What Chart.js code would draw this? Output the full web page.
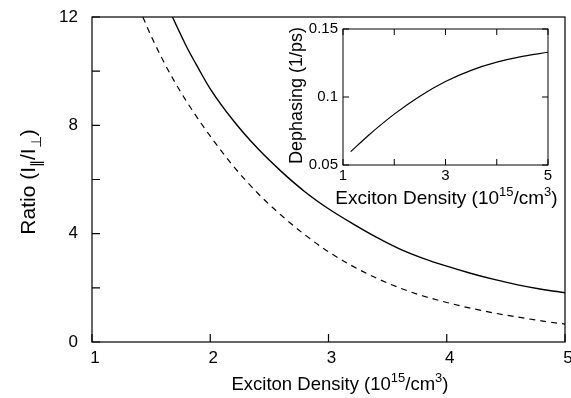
<!DOCTYPE html>
<html>
<head>
<meta charset="utf-8">
<script src="https://cdn.jsdelivr.net/npm/chart.js@4.4.0/dist/chart.umd.min.js"></script>
<style>
html, body { margin: 0; padding: 0; background: #fff; }
#wrap { position: relative; width: 571px; height: 398px; }
#mainChart { position: absolute; left: 0; top: 0; }
#insetChart { position: absolute; left: 280px; top: 20px; }
</style>
</head>
<body>
<div id="wrap">
<canvas id="mainChart" width="571" height="398"></canvas>
<canvas id="insetChart" width="285" height="190"></canvas>
</div>
<script>
// 本体のデータ (Ratio vs Exciton Density)
var densitySolid = [1.68, 1.8, 1.9, 2.0, 2.2, 2.4, 2.6, 2.8, 3.0, 3.2, 3.4, 3.6, 3.8, 4.0, 4.2, 4.4, 4.6, 4.8, 5.0];
var ratioSolid = [12.0, 10.9, 10.1, 9.35, 8.15, 7.15, 6.3, 5.55, 4.92, 4.38, 3.88, 3.44, 3.09, 2.8, 2.54, 2.31, 2.11, 1.95, 1.82];
var densityDashed = [1.43, 1.5, 1.6, 1.7, 1.8, 1.9, 2.0, 2.2, 2.4, 2.6, 2.8, 3.0, 3.2, 3.4, 3.6, 3.8, 4.0, 4.2, 4.4, 4.6, 4.8, 5.0];
var ratioDashed = [12.0, 11.3, 10.4, 9.6, 8.88, 8.22, 7.6, 6.47, 5.5, 4.68, 3.96, 3.33, 2.81, 2.37, 2.0, 1.7, 1.46, 1.25, 1.07, 0.92, 0.78, 0.66];

// インセットのデータ (Dephasing vs Exciton Density)
var insetDensity = [1.15, 1.5, 2.0, 2.5, 3.0, 3.5, 4.0, 4.5, 5.0];
var insetDephasing = [0.0598, 0.0719, 0.0874, 0.1006, 0.1114, 0.1196, 0.1256, 0.1299, 0.1329];

// 目盛り
var mainXTicks = [1, 2, 3, 4, 5];
var mainYTicks = [0, 4, 8, 12];
var mainYMinor = [2, 6, 10];
var insetXTicks = [1, 2, 3, 4, 5];
var insetXLabels = [1, 3, 5];
var insetYTicks = [0.05, 0.1, 0.15];

var FONT = '"Liberation Sans", Arial, Helvetica, sans-serif';

function toPoints(xs, ys) {
    return xs.map(function (x, i) { return { x: x, y: ys[i] }; });
}

// 軸の余白を固定する
function fixX(h) {
    return function (s) { s.height = h; s.paddingLeft = 0; s.paddingRight = 0; };
}
function fixY(w) {
    return function (s) { s.width = w; s.paddingTop = 0; s.paddingBottom = 0; };
}

// 上付き・下付きを含むテキストを描く
function drawRich(ctx, t) {
    ctx.save();
    ctx.translate(t.x, t.y);
    if (t.rot) ctx.rotate(-Math.PI / 2);
    var small = Math.round(t.size * 0.68);
    var w = 0;
    t.parts.forEach(function (p) {
        ctx.font = ((p.sup || p.sub) ? small : t.size) + 'px ' + FONT;
        p.w = ctx.measureText(p.t).width;
        w += p.w;
    });
    var x = -w / 2;
    ctx.fillStyle = '#000';
    ctx.textBaseline = 'alphabetic';
    t.parts.forEach(function (p) {
        ctx.font = ((p.sup || p.sub) ? small : t.size) + 'px ' + FONT;
        var dy = p.sup ? -t.size * 0.42 : (p.sub ? t.size * 0.32 : 0);
        ctx.fillText(p.t, x, t.size * 0.36 + dy);
        x += p.w;
    });
    ctx.restore();
}

// 枠・内向き目盛り・軸タイトル
var framePlugin = {
    id: 'frame',
    afterDatasetsDraw: function (chart, args, opts) {
        var ctx = chart.ctx;
        var a = chart.chartArea;
        var xs = chart.scales.x;
        var ys = chart.scales.y;
        ctx.save();
        ctx.strokeStyle = '#000';
        ctx.lineWidth = opts.lw;
        ctx.strokeRect(a.left, a.top, a.right - a.left, a.bottom - a.top);
        ctx.beginPath();
        opts.xTicks.forEach(function (v) {
            var p = xs.getPixelForValue(v);
            ctx.moveTo(p, a.bottom);
            ctx.lineTo(p, a.bottom - opts.len);
            if (opts.both) {
                ctx.moveTo(p, a.top);
                ctx.lineTo(p, a.top + opts.len);
            }
        });
        opts.yTicks.forEach(function (v) {
            var p = ys.getPixelForValue(v);
            ctx.moveTo(a.left, p);
            ctx.lineTo(a.left + opts.len, p);
            if (opts.both) {
                ctx.moveTo(a.right, p);
                ctx.lineTo(a.right - opts.len, p);
            }
        });
        ctx.stroke();
        ctx.restore();
        opts.titles.forEach(function (t) { drawRich(ctx, t); });
    }
};

var noGrid = { display: false, drawTicks: false };

var mainChart = new Chart(document.getElementById('mainChart'), {
    type: 'line',
    data: {
        datasets: [{
            data: toPoints(densitySolid, ratioSolid),
            borderColor: '#000',
            borderWidth: 1.4,
            pointRadius: 0,
            cubicInterpolationMode: 'monotone',
            fill: false
        }, {
            data: toPoints(densityDashed, ratioDashed),
            borderColor: '#000',
            borderWidth: 1.2,
            borderDash: [6, 5],
            pointRadius: 0,
            cubicInterpolationMode: 'monotone',
            fill: false
        }]
    },
    options: {
        responsive: false,
        animation: false,
        devicePixelRatio: 1,
        layout: { padding: { top: 17, right: 6, left: 0, bottom: 0 } },
        plugins: {
            legend: { display: false },
            tooltip: { enabled: false },
            frame: {
                lw: 1.2,
                len: 8,
                both: false,
                xTicks: mainXTicks,
                yTicks: mainYTicks.concat(mainYMinor),
                titles: [{
                    x: 340, y: 383, size: 18.5,
                    parts: [{ t: 'Exciton Density (10' }, { t: '15', sup: true }, { t: '/cm' }, { t: '3', sup: true }, { t: ')' }]
                }, {
                    x: 27, y: 182, size: 21, rot: true,
                    parts: [{ t: 'Ratio (I' }, { t: '\u2225', sub: true }, { t: '/I' }, { t: '\u22A5', sub: true }, { t: ')' }]
                }]
            }
        },
        scales: {
            x: {
                type: 'linear', min: 1, max: 5,
                grid: noGrid, border: { display: false },
                ticks: {
                    stepSize: 1, padding: 6, labelOffset: 3, color: '#000', maxRotation: 0, autoSkip: false,
                    font: { family: FONT, size: 17 }
                },
                afterFit: fixX(56)
            },
            y: {
                type: 'linear', min: 0, max: 12,
                grid: noGrid, border: { display: false },
                ticks: {
                    stepSize: 4, padding: 14, color: '#000',
                    font: { family: FONT, size: 17 }
                },
                afterFit: fixY(92)
            }
        }
    },
    plugins: [framePlugin]
});

var insetChart = new Chart(document.getElementById('insetChart'), {
    type: 'line',
    data: {
        datasets: [{
            data: toPoints(insetDensity, insetDephasing),
            borderColor: '#000',
            borderWidth: 1.2,
            pointRadius: 0,
            cubicInterpolationMode: 'monotone',
            fill: false
        }]
    },
    options: {
        responsive: false,
        animation: false,
        devicePixelRatio: 1,
        layout: { padding: { top: 9, right: 17, left: 0, bottom: 0 } },
        plugins: {
            legend: { display: false },
            tooltip: { enabled: false },
            frame: {
                lw: 1,
                len: 6,
                both: true,
                xTicks: insetXTicks,
                yTicks: insetYTicks,
                titles: [{
                    x: 166.5, y: 177, size: 19,
                    parts: [{ t: 'Exciton Density (10' }, { t: '15', sup: true }, { t: '/cm' }, { t: '3', sup: true }, { t: ')' }]
                }, {
                    x: 16, y: 75.5, size: 18, rot: true,
                    parts: [{ t: 'Dephasing (1/ps)' }]
                }]
            }
        },
        scales: {
            x: {
                type: 'linear', min: 1, max: 5,
                grid: noGrid, border: { display: false },
                ticks: {
                    stepSize: 1, padding: 2, color: '#000', maxRotation: 0, autoSkip: false,
                    font: { family: FONT, size: 15 },
                    callback: function (v) { return insetXLabels.indexOf(v) >= 0 ? String(v) : ''; }
                },
                afterFit: fixX(45)
            },
            y: {
                type: 'linear', min: 0.05, max: 0.15,
                grid: noGrid, border: { display: false },
                ticks: {
                    stepSize: 0.05, padding: 5, color: '#000',
                    font: { family: FONT, size: 15 },
                    callback: function (v) { return String(+v.toFixed(2)); }
                },
                afterFit: fixY(63)
            }
        }
    },
    plugins: [framePlugin]
});
</script>
</body>
</html>
